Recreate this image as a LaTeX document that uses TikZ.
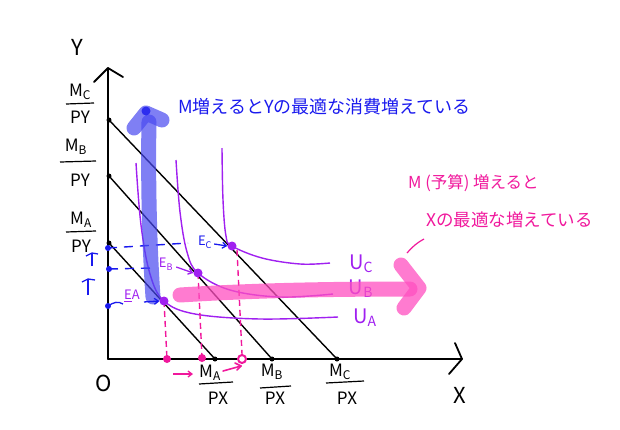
\documentclass[tikz,border=0pt]{standalone}
\usepackage{fontspec}
\setmainfont{Noto Sans CJK JP}
\usetikzlibrary{arrows.meta}
\definecolor{pur}{HTML}{A020F0}
\definecolor{blu}{HTML}{1A1AEE}
\definecolor{mag}{HTML}{F0189C}
\definecolor{pinkarrow}{HTML}{FF4FC0}
\definecolor{bluearrow}{HTML}{4848F0}
\begin{document}
\begin{tikzpicture}[x=1pt,y=-1pt,
  axisline/.style={line width=1.8pt, black, line cap=round},
  budget/.style={line width=1.4pt, black},
  icurve/.style={line width=1.4pt, pur},
  eqdot/.style={circle, fill=pur, inner sep=0pt, minimum size=9pt},
  bdot/.style={circle, fill=black, inner sep=0pt, minimum size=5pt},
  ydot/.style={circle, fill=blu, inner sep=0pt, minimum size=6pt},
  mdot/.style={circle, fill=mag, inner sep=0pt, minimum size=8pt},
  fr/.style={inner sep=0pt, font=\fontsize{17}{17}\selectfont},
  fracrule/.style={line width=1.2pt, black},
  big/.style={inner sep=0pt, font=\fontsize{22}{22}\selectfont},
  ulab/.style={inner sep=0pt, text=pur, font=\fontsize{20}{20}\selectfont},
  elab/.style={inner sep=0pt, font=\fontsize{13}{13}\selectfont},
  bluedash/.style={blu, line width=1.4pt, dash pattern=on 9pt off 7pt},
  magdash/.style={mag, line width=1.4pt, dash pattern=on 6pt off 4pt},
  smallarrow/.style={line width=1.3pt, -{Straight Barb[length=4pt,width=6pt]}},
  jtext/.style={inner sep=0pt, anchor=west, font=\fontsize{18}{18}\selectfont}
]
\useasboundingbox (0,0) rectangle (620,429);
% axes
\coordinate (O) at (108,359);
\coordinate (ytop) at (108,68);
\coordinate (xend) at (462,359);
\draw[axisline] (O) -- (ytop);
\draw[axisline] (O) -- (xend);
\coordinate (yh1) at (94,82);
\coordinate (yh2) at (123,77);
\draw[axisline, line join=round] (yh1) -- (ytop) -- (yh2);
\coordinate (xh1) at (455,343);
\coordinate (xh2) at (449,374);
\draw[axisline, line join=round] (xh1) -- (xend) -- (xh2);
\node[big] (ylab) at (77,47) {Y};
\node[big] (xlab) at (460,395) {X};
\node[big] (olab) at (104,383) {O};

% budget lines
\node[bdot] (ya) at (109,243) {};
\node[bdot] (yb) at (109,176) {};
\node[bdot] (yc) at (109,120) {};
\node[bdot] (xa) at (215,359) {};
\node[bdot] (xb) at (272,359) {};
\node[bdot] (xc) at (337,359) {};
\draw[budget] (ya.center) -- (xa.center);
\draw[budget] (yb.center) -- (xb.center);
\draw[budget] (yc.center) -- (xc.center);

% y-axis fractions
\node[fr] (ncy) at (80,92) {M\textsubscript{C}};
\node[fr] (dcy) at (80,117) {PY};
\coordinate (rcy1) at (66,104); \coordinate (rcy2) at (94,103);
\draw[fracrule] (rcy1) -- (rcy2);
\node[fr] (nby) at (76,147) {M\textsubscript{B}};
\node[fr] (dby) at (80,180) {PY};
\coordinate (rby1) at (60,162); \coordinate (rby2) at (96,161);
\draw[fracrule] (rby1) -- (rby2);
\node[fr] (nay) at (81,220) {M\textsubscript{A}};
\node[fr] (day) at (81,246) {PY};
\coordinate (ray1) at (66,232); \coordinate (ray2) at (96,231);
\draw[fracrule] (ray1) -- (ray2);

% x-axis fractions
\node[fr] (nax) at (210,373) {M\textsubscript{A}};
\node[fr] (dax) at (218,398) {PX};
\coordinate (rax1) at (199,384); \coordinate (rax2) at (233,382);
\draw[fracrule] (rax1) -- (rax2);
\node[fr] (nbx) at (272,372) {M\textsubscript{B}};
\node[fr] (dbx) at (275,398) {PX};
\coordinate (rbx1) at (260,388); \coordinate (rbx2) at (291,386);
\draw[fracrule] (rbx1) -- (rbx2);
\node[fr] (ncx) at (340,372) {M\textsubscript{C}};
\node[fr] (dcx) at (347,398) {PX};
\coordinate (rcx1) at (326,383); \coordinate (rcx2) at (364,381);
\draw[fracrule] (rcx1) -- (rcx2);

% equilibrium points
\coordinate (EA) at (164,301);
\coordinate (EB) at (198,273);
\coordinate (EC) at (232,246);

% indifference curves
\draw[icurve] plot[smooth, tension=0.6] coordinates {(136,163) (141,225) (150,274) (EA) (195,314) (260,319) (338,317)};
\draw[icurve] plot[smooth, tension=0.6] coordinates {(176,160) (180,212) (187,252) (EB) (230,290) (280,297) (333,294)};
\draw[icurve] plot[smooth, tension=0.6] coordinates {(222,148) (223,200) (226,236) (EC) (262,258) (300,264) (330,263)};
\node[ulab] (UC) at (361,264) {U\textsubscript{C}};
\node[ulab] (UB) at (361,289) {U\textsubscript{B}};
\node[ulab] (UA) at (365,318) {U\textsubscript{A}};

% blue dashed guides and y-axis dots
\node[ydot] (ey3) at (108,248) {};
\node[ydot] (ey2) at (109,269) {};
\node[ydot] (ey1) at (108,306) {};
\coordinate (gc) at (188,243);
\coordinate (gb) at (152,268);
\draw[bluedash] (ey3.center) -- (gc);
\draw[bluedash] (ey2.center) -- (gb);
\coordinate (ga) at (123,304);
\draw[blu, line width=1.3pt] (ey1.center) .. controls (114,302) and (118,301) .. (ga);
% blue up marks
\coordinate (t1a) at (92,266); \coordinate (t1b) at (92,253);
\coordinate (t1l) at (86,256); \coordinate (t1r) at (98,254);
\draw[blu, line width=1.3pt] (t1a) -- (t1b);
\draw[blu, line width=1.3pt, line join=round] (t1l) -- (t1b) -- (t1r);
\coordinate (t2a) at (88,295); \coordinate (t2b) at (88,279);
\coordinate (t2l) at (82,282); \coordinate (t2r) at (95,280);
\draw[blu, line width=1.3pt] (t2a) -- (t2b);
\draw[blu, line width=1.3pt, line join=round] (t2l) -- (t2b) -- (t2r);

% magenta vertical dashed lines and x-axis dots
\node[mdot] (mxa) at (167,359) {};
\node[mdot] (mxb) at (202,358) {};
\node[circle, draw=mag, line width=2pt, fill=white, inner sep=0pt, minimum size=8pt] (mxc) at (242,359) {};
\draw[magdash] (EA) -- (mxa.center);
\draw[magdash] (EB) -- (mxb.center);
\coordinate (ECd) at (237,250);
\draw[magdash] (ECd) -- (mxc.north);
\coordinate (arwOneA) at (173,374); \coordinate (arwOneB) at (193,374);
\draw[mag, smallarrow] (arwOneA) -- (arwOneB);
\coordinate (arwTwoA) at (223,371); \coordinate (arwTwoB) at (241,366);
\draw[mag, line width=1.6pt, line cap=round] (arwTwoA) -- (arwTwoB);
\coordinate (arwTwoU) at (235,363); \coordinate (arwTwoD) at (237,370);
\draw[mag, line width=1.6pt, line cap=round, line join=round] (arwTwoU) -- (arwTwoB) -- (arwTwoD);

% big translucent arrows
\coordinate (bs1) at (153,297);
\coordinate (bs2) at (149,122);
\draw[bluearrow, opacity=0.7, line width=15pt, line cap=round] (bs1) .. controls (149,240) and (148,170) .. (bs2);
\coordinate (bh1) at (134,128); \coordinate (bhtop) at (146,113); \coordinate (bh2) at (162,120);
\draw[bluearrow, opacity=0.7, line width=15pt, line cap=round, line join=round] (bh1) -- (bhtop) -- (bh2);
\node[circle, fill=blu, opacity=0.8, inner sep=0pt, minimum size=9pt] (btip) at (146,111) {};

\coordinate (ps1) at (180,295);
\coordinate (ps2) at (410,289);
\draw[pinkarrow, opacity=0.75, line width=15pt, line cap=round] (ps1) .. controls (260,290) and (340,289) .. (ps2);
\coordinate (ph1) at (401,265); \coordinate (phtip) at (419,288); \coordinate (ph2) at (404,308);
\draw[pinkarrow, opacity=0.75, line width=15pt, line cap=round, line join=round] (ph1) -- (phtip) -- (ph2);
\coordinate (st1) at (407,253); \coordinate (st2) at (424,239);
\draw[mag, line width=1.2pt] (st1) .. controls (412,247) and (418,242) .. (st2);

% equilibrium dots and labels
\node[eqdot] (dEA) at (EA) {};
\node[eqdot] (dEB) at (EB) {};
\node[eqdot] (dEC) at (EC) {};
\node[elab, text=pur] (lEA) at (132,296) {\underline{E}A};
\node[elab, text=pur] (lEB) at (166,264) {E\textsubscript{B}};
\node[elab, text=blu] (lEC) at (205,242) {E\textsubscript{C}};
\draw[blu, smallarrow] (lEA.south east) ++(4,0) coordinate (aa1) -- (dEA.west);
\draw[pur, smallarrow] (lEB.east) ++(3,3) coordinate (ab1) -- (dEB.west);
\draw[blu, smallarrow] (lEC.east) ++(2,2) coordinate (ac1) -- (dEC.west);

% texts
\node[jtext, text=blu] (tblue) at (178,107) {M増えるとYの最適な消費増えている};
\node[jtext, text=mag, font=\fontsize{16.5}{16.5}\selectfont] (tmag1) at (408,183) {M (予算) 増えると};
\node[jtext, text=mag, font=\fontsize{17.5}{17.5}\selectfont] (tmag2) at (426,220) {Xの最適な増えている};
\end{tikzpicture}
\end{document}
